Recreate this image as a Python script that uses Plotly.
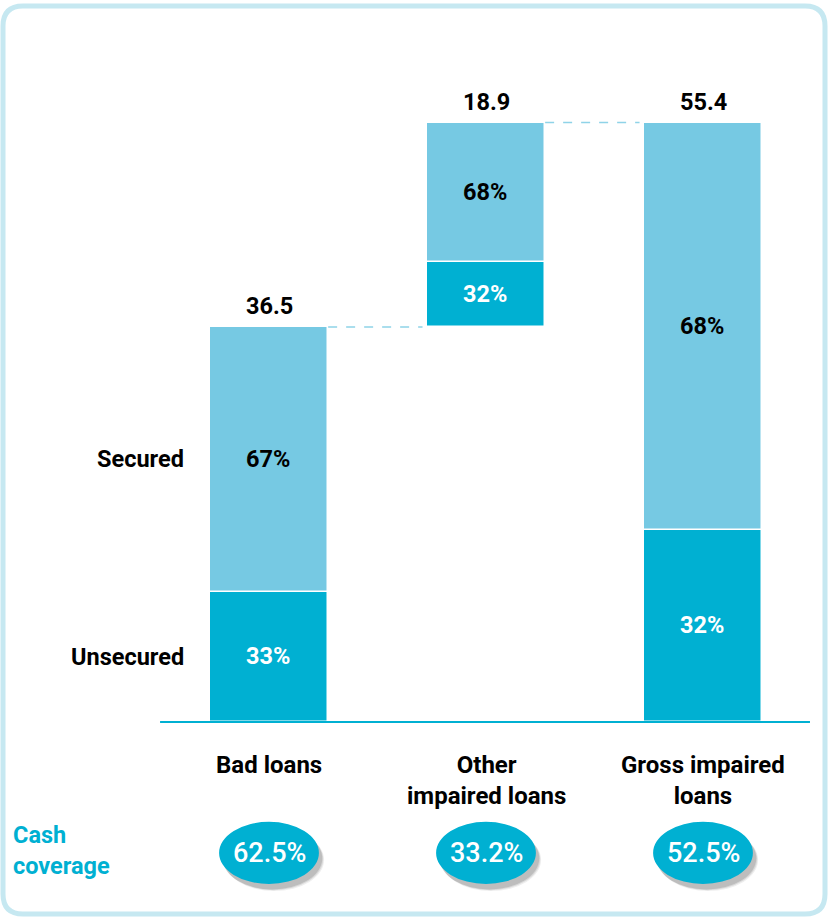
import plotly.graph_objects as go

# Impaired loans breakdown (EUR bn) and secured / unsecured shares
categories = ["Bad loans", "Other<br>impaired loans", "Gross impaired<br>loans"]
totals = [36.5, 18.9, 55.4]
unsecured_share = [33, 32, 32]
secured_share = [67, 68, 68]
# Other impaired loans float on top of bad loans
bases = [0, 36.5, 0]
cash_coverage = ["62.5%", "33.2%", "52.5%"]
row_labels = ["Secured", "Unsecured"]

LIGHT = "#76c9e3"
DARK = "#00b0d2"
FONT = "Roboto"
FS = 23.5

xs = list(range(len(categories)))
unsec_vals = [t * s / 100 for t, s in zip(totals, unsecured_share)]
sec_vals = [t * s / 100 for t, s in zip(totals, secured_share)]
sec_bases = [b + u for b, u in zip(bases, unsec_vals)]

BAR_W = 0.545

fig = go.Figure()
fig.add_trace(go.Bar(
    x=xs, y=unsec_vals, base=bases, width=BAR_W,
    marker=dict(color=DARK, line=dict(color="white", width=1.5)),
    text=[f"{s}%" for s in unsecured_share],
    textposition="inside", insidetextanchor="middle", textangle=0,
    textfont=dict(family=FONT, size=FS, color="white", weight="bold"),
    hoverinfo="skip", showlegend=False,
))
fig.add_trace(go.Bar(
    x=xs, y=sec_vals, base=sec_bases, width=BAR_W,
    marker=dict(color=LIGHT, line=dict(color="white", width=1.5)),
    text=[f"{s}%" for s in secured_share],
    textposition="inside", insidetextanchor="middle", textangle=0,
    textfont=dict(family=FONT, size=FS, color="black", weight="bold"),
    hoverinfo="skip", showlegend=False,
))

annotations = []
shapes = []

# Totals above each bar
for x, b, t in zip(xs, bases, totals):
    annotations.append(dict(
        x=x, y=b + t, text=f"{t}", showarrow=False, yanchor="bottom", yshift=5,
        font=dict(family=FONT, size=FS, color="black", weight="bold"),
    ))

# Dashed connectors between bar tops
tops = [b + t for b, t in zip(bases, totals)]
for i in range(len(xs) - 1):
    shapes.append(dict(
        type="line", xref="x", yref="y",
        x0=xs[i] + BAR_W / 2, x1=xs[i + 1] - BAR_W / 2 - 0.02,
        y0=tops[i], y1=tops[i],
        line=dict(color="#8fd3e8", width=1.5, dash="dash"),
    ))

# Baseline
shapes.append(dict(type="line", xref="x", yref="y", x0=-0.502, x1=2.493, y0=0, y1=0,
                   line=dict(color=DARK, width=2)))

# Row labels aligned with the first bar's segments
for label, yv in zip(row_labels, [sec_bases[0] + sec_vals[0] / 2, unsec_vals[0] / 2]):
    annotations.append(dict(
        x=-BAR_W / 2, y=yv, text=label, showarrow=False, xanchor="right", xshift=-24,
        font=dict(family=FONT, size=FS, color="black", weight="bold"),
    ))

# Category labels under the baseline
for x, c in zip(xs, categories):
    annotations.append(dict(
        x=x, y=0, text=c, showarrow=False, yanchor="top", yshift=-27,
        font=dict(family=FONT, size=24, color="black", weight="bold"),
    ))

# Cash coverage badges
COV_Y = -12.1
EW, EH = 0.23, 2.87
for x, v in zip(xs, cash_coverage):
    for k, op in [(1.0, 0.08), (0.7, 0.12), (0.4, 0.16)]:
        shapes.append(dict(
            type="circle", xref="x", yref="y",
            x0=x - EW + 0.01 + k * 0.014, x1=x + EW + 0.01 + k * 0.014,
            y0=COV_Y - EH - 0.4 - k * 0.25, y1=COV_Y + EH - 0.4 - k * 0.25,
            fillcolor=f"rgba(50,50,50,{op})", line=dict(width=0),
        ))
    shapes.append(dict(
        type="circle", xref="x", yref="y",
        x0=x - EW, x1=x + EW, y0=COV_Y - EH, y1=COV_Y + EH,
        fillcolor=DARK, line=dict(width=0),
    ))
    annotations.append(dict(
        x=x, y=COV_Y, text=v, showarrow=False,
        font=dict(family=FONT, size=27, color="white", weight=500),
    ))

annotations.append(dict(
    xref="paper", yref="paper", x=11 / 828, y=1 - 850 / 917, text="Cash<br>coverage",
    showarrow=False, xanchor="left", yanchor="middle", align="left",
    font=dict(family=FONT, size=FS, color=DARK, weight="bold"),
))

# Rounded panel border
r = 20
x0, y0, x1, y1 = 3, 6, 825, 914
W, H = 828, 917
def px(x): return x / W
def py(y): return 1 - y / H
path = (f"M {px(x0 + r)},{py(y0)} L {px(x1 - r)},{py(y0)} "
        f"Q {px(x1)},{py(y0)} {px(x1)},{py(y0 + r)} L {px(x1)},{py(y1 - r)} "
        f"Q {px(x1)},{py(y1)} {px(x1 - r)},{py(y1)} L {px(x0 + r)},{py(y1)} "
        f"Q {px(x0)},{py(y1)} {px(x0)},{py(y1 - r)} L {px(x0)},{py(y0 + r)} "
        f"Q {px(x0)},{py(y0)} {px(x0 + r)},{py(y0)} Z")
shapes.append(dict(type="path", xref="paper", yref="paper", path=path,
                   line=dict(color="#c6e8f1", width=5), layer="below"))

fig.update_layout(
    width=828, height=917,
    margin=dict(l=0, r=0, t=0, b=0),
    paper_bgcolor="white", plot_bgcolor="white",
    barmode="overlay", bargap=0,
    xaxis=dict(range=[-269 / 217, (828 - 269) / 217], visible=False, fixedrange=True),
    yaxis=dict(range=[-195 / 10.82, 722 / 10.82], visible=False, fixedrange=True),
    shapes=shapes, annotations=annotations,
    uniformtext=dict(mode=False),
)

fig.write_html("out.html")
